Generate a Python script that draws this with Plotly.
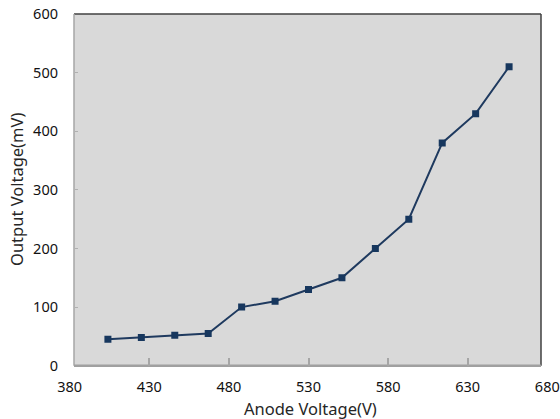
import plotly.graph_objects as go

anode_voltage = [404, 425, 446, 467, 488, 509, 530, 551, 572, 593, 614, 635, 656]
output_voltage = [45, 48, 52, 55, 100, 110, 130, 150, 200, 250, 380, 430, 510]
x_ticks = [380, 430, 480, 530, 580, 630, 680]
y_ticks = [0, 100, 200, 300, 400, 500, 600]

W, H = 560, 419
px = lambda v: v / W
py = lambda v: 1 - v / H

left, right, top, bottom = 74, 541, 14, 365.7
font = "Noto Sans, Open Sans, sans-serif"

fig = go.Figure()
fig.add_trace(go.Scatter(
    x=anode_voltage, y=output_voltage, mode="lines+markers",
    line=dict(color="#1f3a5f", width=2),
    marker=dict(symbol="square", size=7, color="#17375e"),
    showlegend=False,
))

fig.update_layout(
    width=W, height=H,
    margin=dict(l=0, r=0, t=0, b=0),
    paper_bgcolor="white",
    plot_bgcolor="rgba(0,0,0,0)",
    font=dict(family=font, size=14.5, color="#111111"),
    xaxis=dict(
        domain=[px(69.7), px(547.3)], range=[380, 680],
        tickvals=x_ticks, ticks="inside", ticklen=8, tickcolor="#a6a6a6", tickwidth=1.5,
        showline=False, showgrid=False, zeroline=False, automargin=False,
        ticklabelstandoff=11,
    ),
    yaxis=dict(
        domain=[py(bottom), py(top)], range=[0, 600],
        anchor="free", position=px(left),
        tickvals=y_ticks, ticks="inside", ticklen=3, tickcolor="#b0b0b0", tickwidth=1,
        showline=False, showgrid=False, zeroline=False, automargin=False,
        ticklabelstandoff=16,
    ),
    shapes=[
        dict(type="rect", xref="paper", yref="paper", x0=px(left), x1=px(right),
             y0=py(bottom), y1=py(top), fillcolor="#d9d9d9", line=dict(width=0), layer="below"),
        dict(type="line", xref="paper", yref="paper", x0=px(left), x1=px(right),
             y0=py(top), y1=py(top), line=dict(color="#404040", width=1.5), layer="below"),
        dict(type="line", xref="paper", yref="paper", x0=px(right), x1=px(right),
             y0=py(top), y1=py(bottom), line=dict(color="#404040", width=1.5), layer="below"),
        dict(type="line", xref="paper", yref="paper", x0=px(left), x1=px(left),
             y0=py(top), y1=py(bottom), line=dict(color="#a6a6a6", width=1.5), layer="below"),
        dict(type="line", xref="paper", yref="paper", x0=px(left), x1=px(right),
             y0=py(bottom), y1=py(bottom), line=dict(color="#a0a0a0", width=2.5), layer="below"),
    ],
    annotations=[
        dict(text="Anode Voltage(V)", xref="paper", yref="paper", x=px(310.5), y=py(408),
             xanchor="center", yanchor="middle",
             showarrow=False, font=dict(size=16.5, color="#262626", family=font)),
        dict(text="Output Voltage(mV)", xref="paper", yref="paper", x=px(16), y=py(190),
             xanchor="center", yanchor="middle",
             showarrow=False, textangle=-90, font=dict(size=16.5, color="#262626", family=font)),
    ],
)

fig.write_html("out.html")
